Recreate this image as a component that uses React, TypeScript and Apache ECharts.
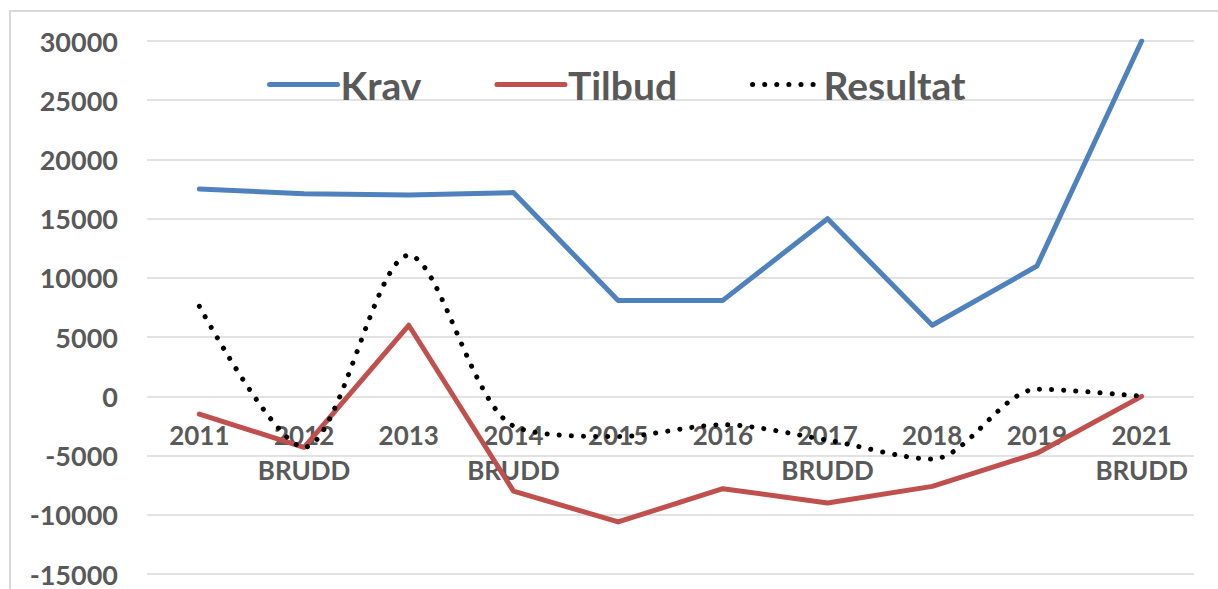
import React, { useEffect, useRef } from "react";
import * as echarts from "echarts";

const years = ["2011", "2012", "2013", "2014", "2015", "2016", "2017", "2018", "2019", "2021"];
const notes = ["", "BRUDD", "", "BRUDD", "", "", "BRUDD", "", "", "BRUDD"];
const krav = [17500, 17100, 17000, 17200, 8100, 8100, 15000, 6000, 11000, 30000];
const tilbud = [-1500, -4300, 6000, -8000, -10600, -7800, -9000, -7600, -4800, 0];
const resultat = [7600, -4300, 11900, -2500, -3400, -2400, -3700, -5300, 600, 0];
const yTicks = { min: -15000, max: 30000, interval: 5000 };

const FONT = "Lato";
const GRAY = "#595959";

export default function App() {
  const ref = useRef<HTMLDivElement>(null);
  useEffect(() => {
    if (!ref.current) return;
    const chart = echarts.init(ref.current, null, { renderer: "svg" });
    chart.setOption({
      animation: false,
      backgroundColor: "#ffffff",
      graphic: [
        {
          type: "rect",
          shape: { x: 10, y: 11, width: 1400, height: 700 },
          style: { fill: "none", stroke: "#d9d9d9", lineWidth: 2 },
          silent: true,
        },
      ],
      grid: { left: 147, right: 24, top: 41, bottom: 15, containLabel: false, outerBoundsMode: "none" },
      legend: {
        left: 262,
        top: 60,
        itemWidth: 68,
        itemHeight: 20,
        itemGap: 73,
        data: ["Krav", "Tilbud", "Resultat"],
        itemStyle: { opacity: 0 },
        lineStyle: { width: 5, cap: "round" },
        textStyle: { fontFamily: FONT, fontWeight: "bold", fontSize: 39, color: GRAY, padding: [0, 0, 0, -2] },
      },
      xAxis: {
        type: "category",
        data: years,
        boundaryGap: true,
        axisTick: { show: false },
        axisLine: { show: false },
        axisLabel: { show: false },
      },
      yAxis: {
        type: "value",
        min: yTicks.min,
        max: yTicks.max,
        interval: yTicks.interval,
        axisLine: { show: false },
        axisTick: { show: false },
        axisLabel: {
          margin: 29,
          fontFamily: FONT,
          fontWeight: "bold",
          fontSize: 27,
          color: GRAY,
          formatter: (v: number) => String(v),
        },
        splitLine: { lineStyle: { color: "#d9d9d9", width: 1.5 } },
      },
      series: [
        {
          name: "labels",
          type: "scatter",
          data: years.map((y) => [y, 0]),
          symbolSize: 0,
          silent: true,
          z: 2,
          itemStyle: { opacity: 1, color: GRAY },
          emphasis: { disabled: true },
          label: {
            show: true,
            position: "bottom",
            distance: 21,
            align: "center",
            fontFamily: FONT,
            fontWeight: "bold",
            fontSize: 26,
            color: GRAY,
            opacity: 1,
            textBorderWidth: 0,
            lineHeight: 35,
            formatter: (p: any) =>
              notes[p.dataIndex] ? years[p.dataIndex] + "\n" + notes[p.dataIndex] : years[p.dataIndex],
          },
        },
        {
          name: "Krav",
          type: "line",
          data: krav,
          showSymbol: false,
          symbol: "none",
          z: 3,
          itemStyle: { color: "#4F81BD" },
          lineStyle: { color: "#4F81BD", width: 5, cap: "round", join: "round" },
        },
        {
          name: "Tilbud",
          type: "line",
          data: tilbud,
          showSymbol: false,
          symbol: "none",
          z: 3,
          itemStyle: { color: "#C0504D" },
          lineStyle: { color: "#C0504D", width: 5, cap: "round", join: "round" },
        },
        {
          name: "Resultat",
          type: "line",
          data: resultat,
          smooth: 0.3,
          showSymbol: false,
          symbol: "none",
          z: 4,
          itemStyle: { color: "#000000" },
          lineStyle: { color: "#000000", width: 5, type: [0.1, 12], cap: "round" },
        },
      ],
    });
    return () => chart.dispose();
  }, []);
  return <div ref={ref} style={{ width: 1218, height: 589, position: "absolute", left: 0, top: 0 }} />;
}
